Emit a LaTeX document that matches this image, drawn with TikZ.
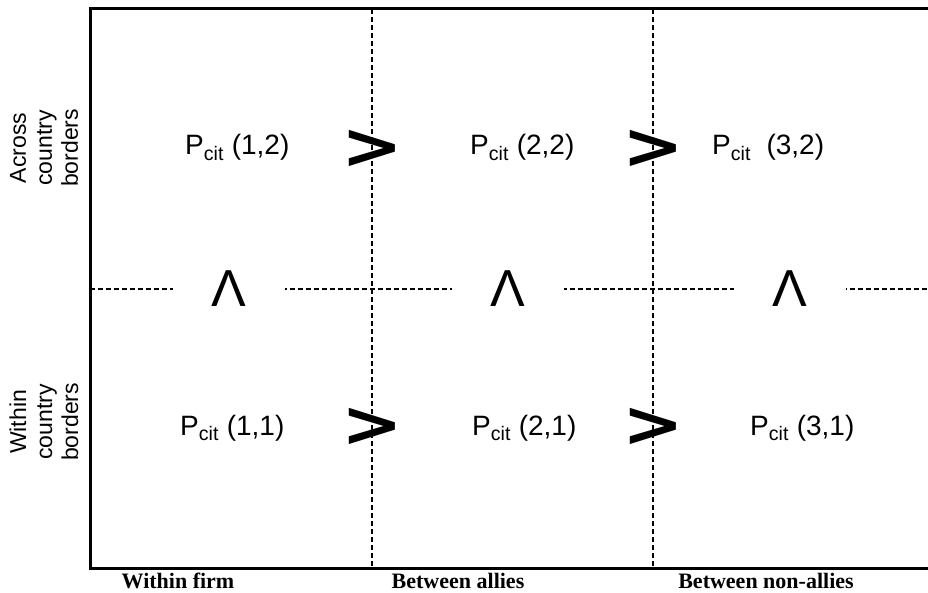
\documentclass[tikz,border=0pt]{standalone}
\usepackage{fontspec}
\setmainfont{Liberation Sans}
\newfontfamily\timesbf{Liberation Serif}
\newfontfamily\symfont{DejaVu Sans}
\tikzset{
  axis/.style={line width=3pt},
  grid/.style={line width=1.3pt,dash pattern=on 5pt off 3pt},
  prob/.style={font=\fontsize{28}{30}\selectfont,inner sep=0pt,anchor=base west},
  gtr/.style={font=\symfont\bfseries\fontsize{64}{64}\selectfont,inner sep=0pt,xscale=1.15},
  wedge/.style={font=\fontsize{52}{52}\selectfont,fill=white,inner sep=0pt,minimum width=112pt},
  rowlab/.style={font=\fontsize{23}{26}\selectfont,align=center,rotate=90,inner sep=0pt},
  collab/.style={font=\timesbf\bfseries\fontsize{22}{24}\selectfont,inner sep=0pt,anchor=base}
}
\begin{document}
\begin{tikzpicture}[x=1pt,y=-1pt]
	\useasboundingbox (0,0) rectangle (928,593);
	\coordinate (tl) at (90,9);
	\coordinate (bl) at (90,568);
	\coordinate (tr) at (928,9);
	\coordinate (br) at (928,568);
	% dashed grid
	\draw[grid] (372,9) -- (372,568);
	\draw[grid] (653,9) -- (653,568);
	\draw[grid] (90,289) -- (928,289);
	% axes
	\draw[axis] (tr) -- (tl) -- (bl) -- (br);
	% comparisons
	\node[wedge] (w1) at (229,289) {Λ};
	\node[wedge] (w2) at (508,289) {Λ};
	\node[wedge] (w3) at (790,289) {Λ};
	\node[gtr] (g12) at (372,149) {>};
	\node[gtr] (g23) at (653,149) {>};
	\node[gtr] (g11) at (372,427) {>};
	\node[gtr] (g21) at (653,427) {>};
	% cells
	\node[prob] (p12) at (185,155) {P\textsubscript{cit} (1,2)};
	\node[prob] (p22) at (470,155) {P\textsubscript{cit} (2,2)};
	\node[prob] (p32) at (712,155) {P\textsubscript{cit}\ \ (3,2)};
	\node[prob] (p11) at (180,435) {P\textsubscript{cit} (1,1)};
	\node[prob] (p21) at (472,435) {P\textsubscript{cit} (2,1)};
	\node[prob] (p31) at (750,435) {P\textsubscript{cit} (3,1)};
	% row and column labels
	\node[rowlab] (across) at (44,148) {Across\\country\\borders};
	\node[rowlab] (within) at (44,422) {Within\\country\\borders};
	\node[collab] (firm) at (178,588) {Within firm};
	\node[collab] (allies) at (458,588) {Between allies};
	\node[collab] (nonallies) at (766,588) {Between non-allies};
\end{tikzpicture}
\end{document}
